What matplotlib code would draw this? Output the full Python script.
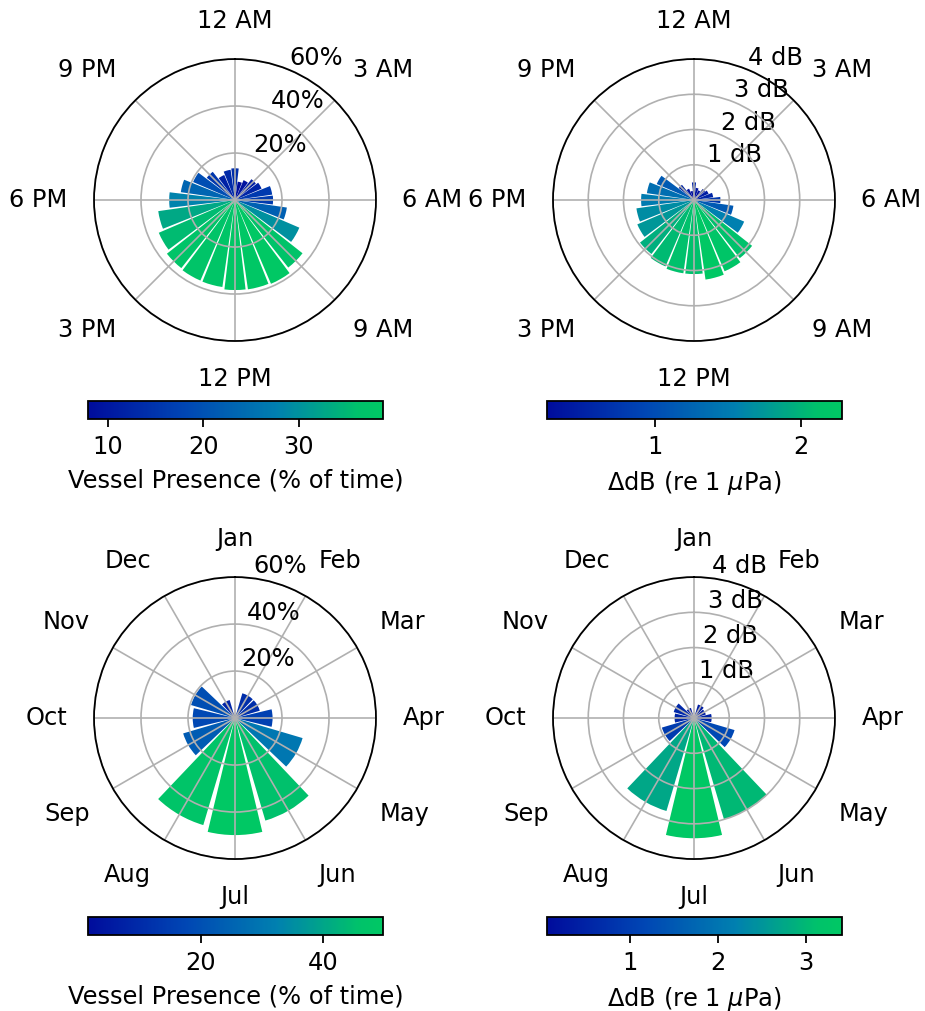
import numpy as np
import matplotlib.pyplot as plt
from matplotlib.colors import LinearSegmentedColormap, Normalize
from matplotlib.cm import ScalarMappable

plt.rcParams['font.size'] = 17.4

# hourly (24 bins, clockwise from midnight) and monthly (12 bins, clockwise from Jan)
hour_labels = ['12 AM', '3 AM', '6 AM', '9 AM', '12 PM', '3 PM', '6 PM', '9 PM']
month_labels = ['Jan', 'Feb', 'Mar', 'Apr', 'May', 'Jun',
                'Jul', 'Aug', 'Sep', 'Oct', 'Nov', 'Dec']

presence_hourly = [13.5, 7.9, 9.2, 11.3, 12.3, 16.0, 16.2, 22.3, 29.8, 36.6, 38.8, 38.4,
                   38.3, 37.4, 37.3, 36.9, 35.3, 33.0, 28.0, 23.3, 19.4, 15.3, 11.6, 13.0]
db_hourly = [0.5, 0.35, 0.3, 0.4, 0.45, 0.55, 0.75, 1.13, 1.55, 2.1, 2.2, 2.28,
             2.1, 2.1, 2.05, 1.95, 1.75, 1.65, 1.5, 1.35, 1.15, 0.55, 0.35, 0.26]

presence_monthly = [1.5, 11.0, 11.0, 16.0, 30.0, 45.5, 49.8, 47.5, 23.0, 18.0, 19.5, 8.0]
db_monthly = [0.06, 0.4, 0.35, 0.5, 1.2, 3.0, 3.41, 2.75, 0.95, 0.55, 0.6, 0.3]

cmap = LinearSegmentedColormap.from_list(
    'vessel', [(0.0, '#000c9c'), (0.33, '#0046b4'), (0.64, '#0080b0'),
               (0.92, '#00c26a'), (1.0, '#00c864')])

fig = plt.figure(figsize=(9.25, 10.11), dpi=100)


def rose(rect, cbar_rect, values, grid_deg, grid_labels, rmax, rticks, rlabels,
         cticks, clabel, rlabel_pos):
    ax = fig.add_axes(rect, projection='polar')
    n = len(values)
    step = 2 * np.pi / n
    theta = np.arange(n) * step
    norm = Normalize(min(values), max(values))
    ax.bar(theta, values, width=0.9 * step, color=cmap(norm(values)))
    ax.set_theta_zero_location('N')
    ax.set_theta_direction(-1)
    ax.set_thetagrids(grid_deg, grid_labels)
    # anchor the angle labels on the edge facing the circle
    for lab, deg in zip(ax.get_xticklabels(), grid_deg):
        sx, cy = np.sin(np.deg2rad(deg)), np.cos(np.deg2rad(deg))
        lab.set_ha('left' if sx > 0.01 else 'right' if sx < -0.01 else 'center')
        lab.set_va('bottom' if cy > 0.01 else 'top' if cy < -0.01 else 'center')
    ax.set_ylim(0, rmax)
    ax.set_yticks(rticks)
    ax.set_yticklabels(rlabels)
    ax.set_rlabel_position(rlabel_pos)
    ax.tick_params(axis='x', pad=8.5)
    ax.grid(color='#b0b0b0', linewidth=1.2)
    ax.spines['polar'].set_linewidth(1.3)

    cax = fig.add_axes(cbar_rect)
    cb = fig.colorbar(ScalarMappable(norm=norm, cmap=cmap), cax=cax,
                      orientation='horizontal')
    cb.set_ticks(cticks)
    cb.set_label(clabel, labelpad=7)
    cb.outline.set_linewidth(1.3)
    cax.tick_params(length=5.5, width=1.3, pad=6)
    return ax


pct_ticks = [20, 40, 60]
pct_labels = ['20%', '40%', '60%']
db_ticks = [1, 2, 3, 4]
db_labels = ['1 dB', '2 dB', '3 dB', '4 dB']
hour_grid = np.arange(0, 360, 45)
month_grid = np.arange(0, 360, 30)
db_name = r'$\Delta$dB (re 1 $\mu$Pa)'

rose([0.1016, 0.6627, 0.3049, 0.2789], [0.0951, 0.5856, 0.3189, 0.0178],
     presence_hourly, hour_grid, hour_labels, 60, pct_ticks, pct_labels,
     [10, 20, 30], 'Vessel Presence (% of time)', 22.5)
rose([0.5978, 0.6627, 0.3049, 0.2789], [0.5914, 0.5856, 0.3189, 0.0178],
     db_hourly, hour_grid, hour_labels, 4, db_ticks, db_labels,
     [1, 2], db_name, 22.5)
rose([0.1016, 0.1503, 0.3049, 0.2789], [0.0951, 0.0752, 0.3189, 0.0178],
     presence_monthly, month_grid, month_labels, 60, pct_ticks, pct_labels,
     [20, 40], 'Vessel Presence (% of time)', 7.5)
rose([0.5978, 0.1503, 0.3049, 0.2789], [0.5914, 0.0752, 0.3189, 0.0178],
     db_monthly, month_grid, month_labels, 4, db_ticks, db_labels,
     [1, 2, 3], db_name, 7.5)

fig.savefig('out.png', dpi=100)
